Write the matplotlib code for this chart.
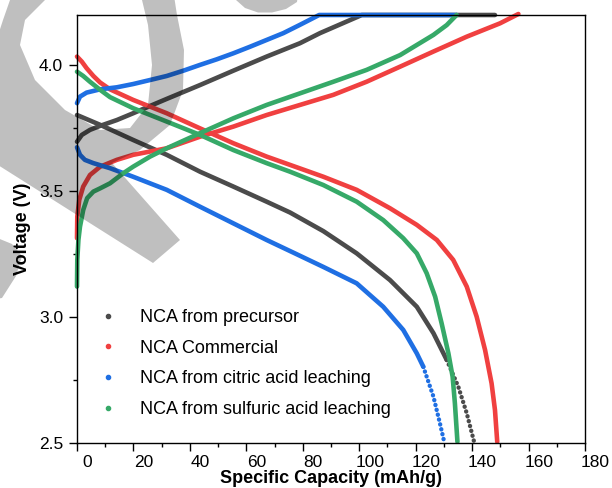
import matplotlib
matplotlib.use('Agg')
import matplotlib.pyplot as plt
from matplotlib.lines import Line2D
from matplotlib.path import Path
from matplotlib.patches import PathPatch
from matplotlib.transforms import Affine2D, ScaledTranslation

plt.rcParams['font.family'] = ['Liberation Sans', 'DejaVu Sans']

# ---------------- data ----------------
labels = ['NCA from precursor', 'NCA Commercial',
          'NCA from citric acid leaching', 'NCA from sulfuric acid leaching']
colors = ['#4b4b4b', '#f04040', '#1f6fe3', '#36a968']

# NCA from precursor
prec_chg_x = [0, 1.7, 4.6, 8.2, 14.1, 19.9, 25.9, 31.8, 43.6, 55.4, 67.2, 79, 86.1, 100.9, 148.1]
prec_chg_v = [3.697, 3.724, 3.744, 3.76, 3.783, 3.81, 3.839, 3.867, 3.922, 3.979, 4.035, 4.088, 4.128, 4.2, 4.2]
prec_dis_x = [0, 8.2, 19.9, 31.8, 43.6, 55.4, 67.2, 75.5, 87.3, 99.1, 110.9, 120.4, 126.3, 131.0]
prec_dis_v = [3.803, 3.764, 3.704, 3.645, 3.578, 3.519, 3.459, 3.416, 3.342, 3.254, 3.148, 3.042, 2.937, 2.831]
prec_tail_x = [131.0, 135.1, 138.1, 140.7]
prec_tail_v = [2.831, 2.725, 2.619, 2.506]

# NCA Commercial
com_chg_x = [0, 0.1, 0.8, 2.2, 4.6, 8.2, 14.1, 19.9, 31.8, 43.6, 55.4, 67.2, 79, 90.8, 102.6, 114.5, 126.3, 138.1, 149.9, 156.4]
com_chg_v = [3.314, 3.40, 3.466, 3.519, 3.565, 3.598, 3.625, 3.645, 3.671, 3.717, 3.757, 3.803, 3.843, 3.883, 3.935, 3.995, 4.055, 4.114, 4.167, 4.204]
com_dis_x = [0, 1.7, 3.4, 5.8, 8.2, 11.7, 19.9, 31.8, 43.6, 55.4, 67.2, 75.5, 87.3, 99.1, 110.9, 120.4, 127.5, 133.3, 138.1, 141.6, 144.6, 146.9, 148.1, 148.9]
com_dis_v = [4.035, 4.015, 3.989, 3.958, 3.932, 3.905, 3.863, 3.81, 3.75, 3.691, 3.638, 3.605, 3.558, 3.506, 3.433, 3.367, 3.307, 3.228, 3.122, 3.003, 2.87, 2.738, 2.632, 2.506]

# NCA from citric acid leaching
cit_chg_x = [0, 1.06, 3.4, 8.2, 14.1, 19.9, 25.9, 31.8, 37.7, 43.6, 49.5, 55.4, 61.3, 67.2, 73.1, 79, 85.8, 134.5]
cit_chg_v = [3.85, 3.876, 3.892, 3.905, 3.913, 3.926, 3.942, 3.958, 3.979, 4.002, 4.024, 4.048, 4.074, 4.101, 4.128, 4.161, 4.2, 4.2]
cit_dis_x = [0, 1.06, 2.8, 5.8, 11.7, 19.9, 31.8, 43.6, 55.4, 67.2, 77, 87.3, 99.1, 108.5, 115.6, 120.4, 122.7]
cit_dis_v = [3.675, 3.645, 3.625, 3.612, 3.592, 3.558, 3.506, 3.439, 3.373, 3.307, 3.255, 3.20, 3.135, 3.042, 2.95, 2.857, 2.804]
cit_tail_x = [122.7, 126.3, 128.6, 130.1]
cit_tail_v = [2.804, 2.685, 2.579, 2.506]

# NCA from sulfuric acid leaching
sul_chg_x = [0, 0.1, 0.5, 1.06, 2.2, 3.6, 5.8, 8.2, 11.7, 16.4, 19.9, 25.9, 31.8, 43.6, 55.4, 67.2, 79, 90.8, 102.6, 114.5, 120.4, 126.3, 131, 134.5]
sul_chg_v = [3.122, 3.228, 3.307, 3.36, 3.426, 3.473, 3.499, 3.512, 3.532, 3.572, 3.598, 3.638, 3.671, 3.731, 3.79, 3.843, 3.889, 3.935, 3.982, 4.041, 4.081, 4.121, 4.16, 4.2]
sul_dis_x = [0, 2.2, 4.6, 8.2, 11.7, 19.9, 31.8, 43.6, 55.4, 67.2, 75.5, 87.3, 99.1, 108.5, 115.6, 120.4, 123.9, 126.9, 129.2, 131.6, 133.1, 133.9, 134.8]
sul_dis_v = [3.975, 3.958, 3.935, 3.903, 3.874, 3.83, 3.777, 3.724, 3.664, 3.612, 3.578, 3.525, 3.459, 3.386, 3.314, 3.254, 3.175, 3.082, 2.976, 2.857, 2.764, 2.659, 2.506]

xticks = [0, 20, 40, 60, 80, 100, 120, 140, 160, 180]
yticks = [2.5, 3.0, 3.5, 4.0]

# ---------------- figure ----------------
W, H, DPI = 612, 488, 100
fig = plt.figure(figsize=(W / DPI, H / DPI), dpi=DPI)
L, R, T, B = 77, 585, 15, 443.3
ax = fig.add_axes([L / W, (H - B) / H, (R - L) / W, (B - T) / H])

lw = 3.3
series = [
    (prec_chg_x, prec_chg_v, prec_dis_x, prec_dis_v, prec_tail_x, prec_tail_v),
    (com_chg_x, com_chg_v, com_dis_x, com_dis_v, None, None),
    (cit_chg_x, cit_chg_v, cit_dis_x, cit_dis_v, cit_tail_x, cit_tail_v),
    (sul_chg_x, sul_chg_v, sul_dis_x, sul_dis_v, None, None),
]
for (cx, cv, dx, dv, tx, tv), col in zip(series, colors):
    ax.plot(cx, cv, color=col, lw=lw, solid_capstyle='round', solid_joinstyle='round', clip_on=False)
    ax.plot(dx, dv, color=col, lw=lw, solid_capstyle='round', solid_joinstyle='round', clip_on=False)
    if tx is not None:
        ax.plot(tx, tv, color=col, lw=lw * 0.95, linestyle=(0, (0.05, 1.1)),
                dash_capstyle='round', clip_on=False)

ax.set_xlim(0, 180)
ax.set_ylim(2.5, 4.2)
ax.set_xticks(xticks)
ax.set_xticks(range(10, 180, 20), minor=True)
ax.set_yticks(yticks)
ax.set_yticks([2.75, 3.25, 3.75], minor=True)
ax.set_yticklabels([f'{v:.1f}' for v in yticks], fontsize=12.5)
ax.set_xticklabels([])
ax.tick_params(which='major', direction='out', length=6, width=1.0, pad=4.0)
ax.tick_params(which='minor', direction='out', length=3.2, width=1.0)
ax.tick_params(top=False, right=False)
for s in ax.spines.values():
    s.set_linewidth(1.0)

# x tick labels (offset to the right as in the reference)
off = ScaledTranslation(10.5 / DPI, -11.5 / DPI, fig.dpi_scale_trans)
for v in xticks:
    ax.text(v, 0, str(v), transform=ax.get_xaxis_transform() + off,
            ha='center', va='top', fontsize=12.5)

ax.set_xlabel('Specific Capacity (mAh/g)', fontsize=13, fontweight='bold')
ax.set_ylabel('Voltage (V)', fontsize=13, fontweight='bold')
ax.xaxis.set_label_coords(0.5, -(470 - B) / (B - T))
ax.yaxis.set_label_coords(-(77 - 31) / (R - L), 0.5)

handles = [Line2D([], [], marker='o', ls='', color=c, ms=3.0) for c in colors]
ax.legend(handles, labels, loc='upper left', frameon=False, fontsize=13,
          bbox_to_anchor=(99 / W, 1 - 309 / H), bbox_transform=fig.transFigure,
          borderpad=0, borderaxespad=0, handlelength=1.0, handletextpad=1.28,
          labelspacing=0.76)

# ---------------- light grey watermark overlay ----------------
def px_path(outer, holes=()):
    verts, codes = [], []
    for poly in [outer] + list(holes):
        verts += list(poly) + [poly[0]]
        codes += [Path.MOVETO] + [Path.LINETO] * (len(poly) - 1) + [Path.CLOSEPOLY]
    return Path(verts, codes)

pix = Affine2D().scale(1 / DPI, -1 / DPI).translate(0, H / DPI) + fig.dpi_scale_trans

loop_outer = [(10, -30), (10, 0), (3, 20), (-10, 60), (-10, 160), (153, 263), (180, 240),
              (112, 163), (140, 150), (170, 125), (183, 90), (184, 50), (177, 15), (170, -30)]
loop_hole = [(45, -30), (142, -30), (142, 0), (148, 25), (152, 65), (148, 105), (130, 128),
             (100, 130), (65, 110), (35, 80), (20, 45), (25, 20), (45, 0)]
blob_low = [(-10, 235), (12, 244), (22, 256), (16, 276), (2, 298), (-10, 300)]
blob_top = [(234, -20), (236, 0), (245, 8), (258, 12.5), (272, 12.5), (286, 9), (297, 2), (300, -20)]
for outer, holes in [(loop_outer, [loop_hole]), (blob_low, []), (blob_top, [])]:
    fig.add_artist(PathPatch(px_path(outer, holes), transform=pix, facecolor='black',
                             edgecolor='none', alpha=0.25, zorder=10))

fig.savefig('out.png', dpi=DPI)
